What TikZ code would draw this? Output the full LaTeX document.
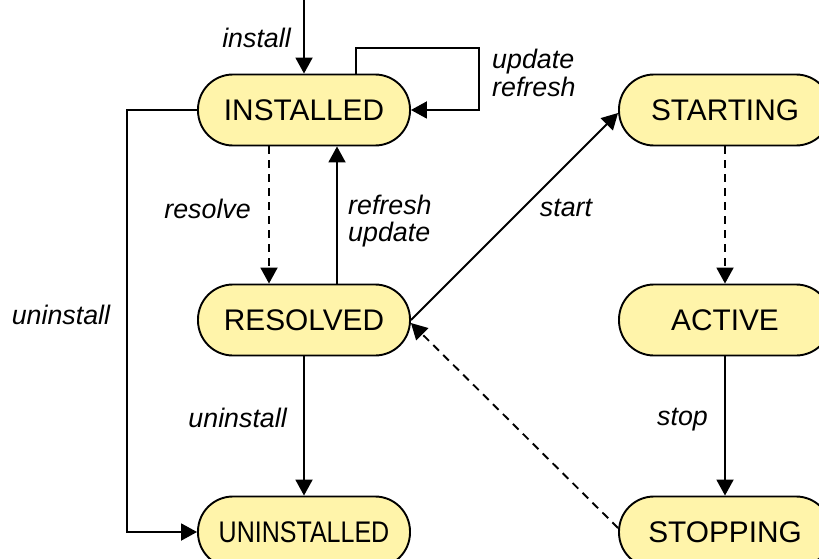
\documentclass[tikz,border=0pt]{standalone}
\usepackage{fontspec}
\setmainfont{Liberation Sans}
\usetikzlibrary{arrows.meta}
\definecolor{statefill}{RGB}{255,244,170}
\tikzset{
  state/.style={draw=black, line width=1.9pt, fill=statefill, rounded corners=35pt,
    minimum width=212pt, minimum height=71pt, inner sep=0pt,
    font=\fontsize{29.8}{33}\selectfont},
  conn/.style={line width=1.9pt, -{Triangle[length=16pt,width=17pt]}},
  dconn/.style={conn, dash pattern=on 8pt off 6pt},
  lbl/.style={inner sep=0pt, font=\fontsize{26.8}{27.5}\selectfont\itshape}
}
\begin{document}
\begin{tikzpicture}[x=1pt,y=-1pt]
\useasboundingbox (0,0) rectangle (819,559);
\node[state] (inst) at (304,110) {INSTALLED};
\node[state] (res) at (304,320) {RESOLVED};
\node[state] (uninst) at (304,532) {\scalebox{0.84}[1]{UNINSTALLED}};
\node[state] (start) at (725,110) {STARTING};
\node[state] (act) at (725,320) {ACTIVE};
\node[state] (stop) at (725,532) {STOPPING};

\coordinate (top) at (304,0);
\coordinate (loopc) at (479,48);
\coordinate (ul) at (127,110);

\draw[conn] (top) -- (inst.north);
\node[lbl, anchor=east] (linstall) at (291,38) {install};

\draw[conn] ([xshift=52pt]inst.north) |- (loopc) |- (inst.east);
\node[lbl, anchor=west, align=left] (lupd) at (492,73) {update\\refresh};

\draw[dconn] ([xshift=-35pt]inst.south) -- ([xshift=-35pt]res.north);
\node[lbl, anchor=east] (lresolve) at (251,209) {resolve};

\draw[conn] ([xshift=33pt]res.north) -- ([xshift=33pt]inst.south);
\node[lbl, anchor=west, align=left] (lref) at (348,221) {refresh\\update};

\draw[conn] (inst.west) -- (ul) |- (uninst.west);
\node[lbl] (luninst1) at (61,315) {uninstall};

\draw[conn] (res.south) -- (uninst.north);
\node[lbl, anchor=east] (luninst2) at (287,418) {uninstall};

\draw[conn] (res.east) -- ([yshift=-3pt]start.west);
\node[lbl] (lstart) at (566,208) {start};

\draw[dconn] (start.south) -- (act.north);

\draw[conn] (act.south) -- (stop.north);
\node[lbl, anchor=east] (lstop) at (708,420) {stop};

\draw[dconn] ([yshift=4pt]stop.west) -- ([yshift=-3pt]res.east);
\end{tikzpicture}
\end{document}
